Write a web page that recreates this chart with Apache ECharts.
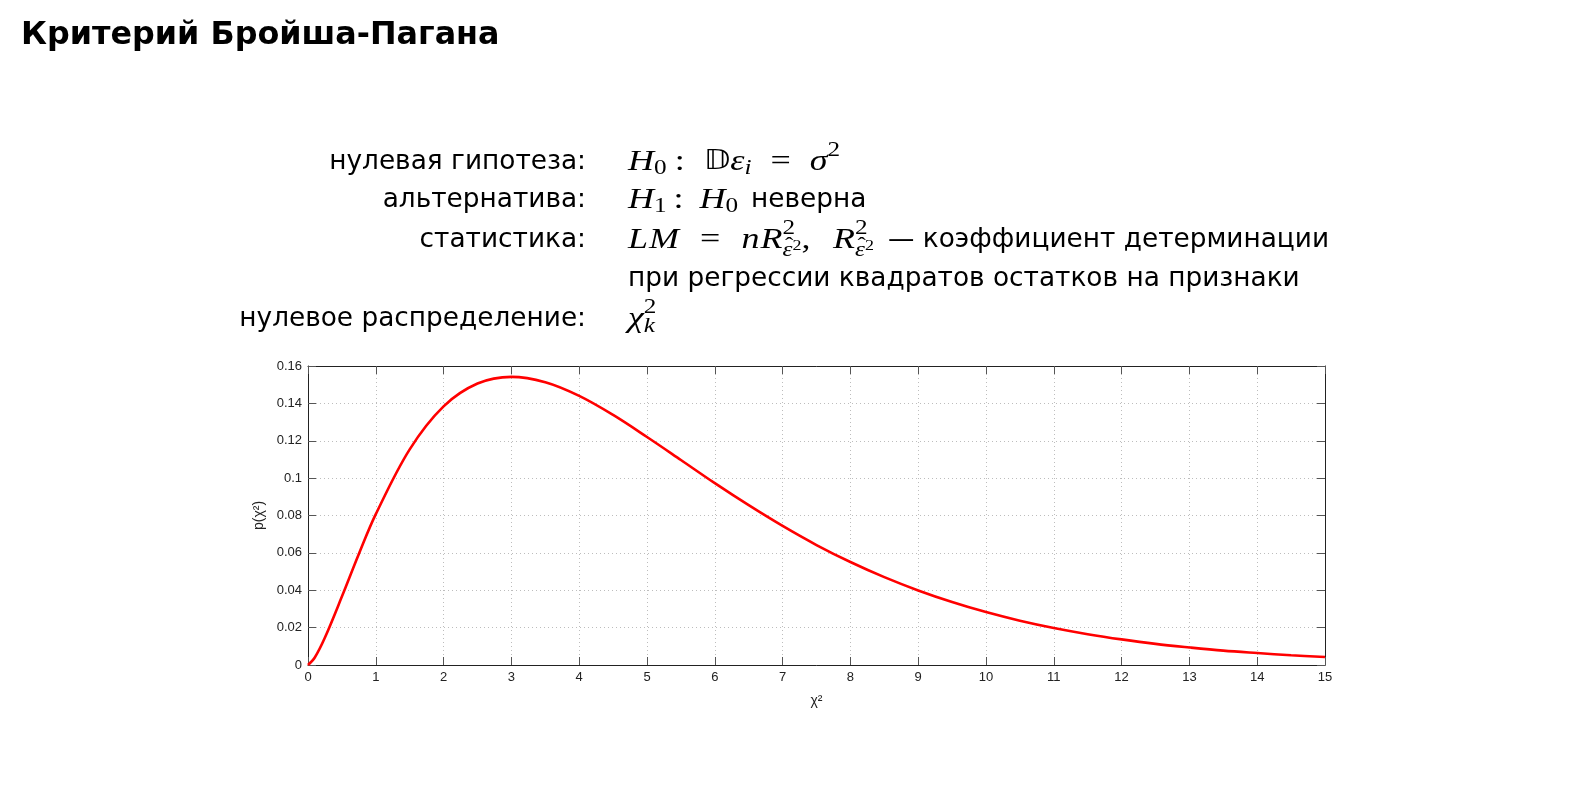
<!DOCTYPE html>
<html><head><meta charset="utf-8">
<script src="https://cdn.jsdelivr.net/npm/echarts@6/dist/echarts.min.js"></script>
<style>html,body{margin:0;padding:0;background:#fff}#c{width:1582px;height:790px}</style>
</head><body><div id="c"></div>
<script>
// ---- data ----
const xValues = [0, 0.1, 0.25, 0.5, 0.75, 1, 1.5, 2, 2.5, 3, 3.5, 4, 4.5, 5, 5.5, 6, 6.5, 7, 7.5, 8, 8.5, 9, 9.5, 10, 10.5, 11, 11.5, 12, 12.5, 13, 13.5, 14, 14.5, 15];
const yValues = [0, 0.004, 0.0147, 0.0366, 0.0594, 0.0807, 0.1154, 0.1384, 0.1506, 0.1542, 0.1513, 0.1440, 0.1338, 0.1220, 0.1097, 0.0973, 0.0855, 0.0744, 0.0642, 0.0551, 0.0470, 0.0399, 0.0337, 0.0283, 0.0237, 0.0198, 0.0165, 0.0137, 0.0113, 0.0094, 0.0077, 0.0064, 0.0052, 0.0043];
const xTicks = {min: 0, max: 15, interval: 1};
const yTicks = {min: 0, max: 0.16, interval: 0.02};
const titleText = 'Критерий Бройша-Пагана';
const rowLabels = ['нулевая гипотеза:', 'альтернатива:', 'статистика:', '', 'нулевое распределение:'];
const xName = 'χ²';
const yName = 'p(χ²)';

// ---- text layout helpers ----
const ctx = document.createElement('canvas').getContext('2d');
function tw(text, font) { ctx.font = font; return ctx.measureText(text).width; }
const SERIF = '"Liberation Serif"';
const SANS = '"DejaVu Sans"';
const G = 1.2; // horizontal widening of math glyphs
function F(k, s) {
  if (k === 'i') return 'italic ' + s + 'px ' + SERIF;
  if (k === 'u') return s + 'px ' + SERIF;
  if (k === 'd') return s + 'px "DejaVu Sans", "DejaVu Serif"';
  if (k === 'b') return 'bold ' + s + 'px ' + SANS;
  return s + 'px ' + SANS;
}
function gx(k) { return (k === 's' || k === 'b') ? 1 : G; }
const els = [];
function put(text, font, x, base, size, align, sx) {
  align = align || 'left';
  els.push({type: 'text', x: x, y: base - 0.14 * size, scaleX: sx || 1, silent: true,
    style: {text: text, font: font, fill: '#000', textAlign: align, align: align,
      textVerticalAlign: 'middle', verticalAlign: 'middle'}});
}
function pw(p) { return p.nw ? 0 : tw(p.t, F(p.k, p.s)) * gx(p.k); }
function naturalWidth(pieces) {
  let x = 0, n = 0;
  for (const p of pieces) {
    if (p.sp !== undefined) { x += p.sp; if (p.g) n += p.sp; continue; }
    if (p.stack) { x += Math.max.apply(null, p.stack.map(g => g.reduce((a, q) => a + pw(q), 0))); continue; }
    x += pw(p);
  }
  return {w: x, n: n};
}
function row(x, base, pieces, target) {
  let f = 0;
  if (target) { const nw = naturalWidth(pieces); f = Math.max(0, (target - nw.w) / Math.max(1, nw.n)); }
  for (const p of pieces) {
    if (p.sp !== undefined) { x += p.sp + (p.g ? p.sp * f : 0); continue; }
    if (p.stack) {
      const x0 = x; let mx = 0;
      for (const grp of p.stack) {
        let xx = x0;
        for (const q of grp) { put(q.t, F(q.k, q.s), xx + (q.dx || 0), base + q.dy, q.s, 'left', gx(q.k)); xx += pw(q); }
        mx = Math.max(mx, xx - x0);
      }
      x = x0 + mx; continue;
    }
    put(p.t, F(p.k, p.s), x + (p.dx || 0), base + p.dy, p.s, 'left', gx(p.k)); x += pw(p);
  }
}
const M = 30, SUP = 21, SS = 15;
function P(k, t, s, dy, extra) { return Object.assign({k: k, t: t, s: s || M, dy: dy || 0}, extra || {}); }

// title
const titleSize = 31.8;
put(titleText, F('b', titleSize), 21, 40, titleSize);

// sans size fitted to the long row
const row4 = 'при регрессии квадратов остатков на признаки';
const S = 672 / tw(row4, F('s', 100)) * 100;
const bases = [166, 204, 244, 283, 323];
const LX = 586, MX = 628;
rowLabels.forEach((t, i) => { if (t) put(t, F('s', S), LX, bases[i], S, 'right'); });

const thin = M * 0.12, thick = M * 0.28;
const sup2 = P('u', '2', SUP, -13);
// hat drawn as its own glyph above the small epsilon
const subE = [P('u', 'ˆ', SUP, 5, {nw: true, dx: 2.5}), P('i', 'ε', SUP, 9), P('u', '2', SS, 4)];
row(MX, bases[0], [P('i', 'H'), P('u', '0', SUP, 5), {sp: thin, g: 1}, P('u', ':'), {sp: thick, g: 1},
  P('d', '𝔻', M * 0.9), P('i', 'ε'), P('i', 'i', SUP, 5), {sp: thick, g: 1}, P('u', '='), {sp: thick, g: 1}, P('i', 'σ'), sup2], 212);
const row2 = [P('i', 'H'), P('u', '1', SUP, 5), {sp: thin, g: 1}, P('u', ':'), {sp: thick, g: 1}, P('i', 'H'), P('u', '0', SUP, 5)];
row(MX, bases[1], row2, 110);
row(MX + 123, bases[1], [P('s', 'неверна', S)]);
const row3 = [P('i', 'L'), {sp: 1}, P('i', 'M'), {sp: thick, g: 1}, P('u', '='), {sp: thick, g: 1}, P('i', 'n'), {sp: 1}, P('i', 'R'),
  {stack: [[sup2], subE]}, P('u', ','), {sp: M * 0.3, g: 1}, P('i', 'R'), {stack: [[sup2], subE]}];
row(MX, bases[2], row3, 246);
row(MX + 260, bases[2], [P('s', '— коэффициент детерминации', S)]);
row(MX, bases[3], [P('s', row4, S)]);
row(MX, bases[4], [P('i', 'χ'), {stack: [[sup2], [P('i', 'k', SUP, 6)]]}]);

// ---- chart ----
const chart = echarts.init(document.getElementById('c'), null, {renderer: 'canvas'});
const axisCommon = {
  type: 'value',
  axisLine: {show: true, onZero: false, lineStyle: {color: '#222', width: 1}},
  axisTick: {show: true, inside: true, length: 8, lineStyle: {color: '#555'}},
};
const labelStyle = {color: '#222', fontSize: 13, fontFamily: '"Liberation Sans", Arial, sans-serif'};
const data = xValues.map((x, i) => [x, yValues[i]]);
chart.setOption({
  animation: false,
  backgroundColor: '#fff',
  grid: {left: 308, right: 257, top: 366, bottom: 125, containLabel: false},
  xAxis: [
    Object.assign({}, axisCommon, xTicks, {position: 'bottom', name: xName, nameLocation: 'middle', nameGap: 29,
      nameTextStyle: {color: '#222', fontSize: 14, fontFamily: '"Liberation Sans", Arial'},
      axisLabel: Object.assign({margin: 6}, labelStyle),
      splitLine: {show: true, lineStyle: {color: '#bdbdbd', type: [1, 3], width: 1}}}),
    Object.assign({}, axisCommon, xTicks, {position: 'top', axisLabel: {show: false}, splitLine: {show: false}})
  ],
  yAxis: [
    Object.assign({}, axisCommon, yTicks, {position: 'left', name: yName, nameLocation: 'middle', nameGap: 34,
      nameTextStyle: {color: '#222', fontSize: 14, fontFamily: '"Liberation Sans", Arial'},
      axisLabel: Object.assign({margin: 6}, labelStyle),
      splitLine: {show: true, lineStyle: {color: '#bdbdbd', type: [1, 3], width: 1}}}),
    Object.assign({}, axisCommon, yTicks, {position: 'right', axisLabel: {show: false}, splitLine: {show: false}})
  ],
  series: [{type: 'line', data: data, smooth: 0.35, showSymbol: false, xAxisIndex: 0, yAxisIndex: 0,
    lineStyle: {color: '#ff0000', width: 2.6}, z: 5}],
  graphic: els
});
</script></body></html>
